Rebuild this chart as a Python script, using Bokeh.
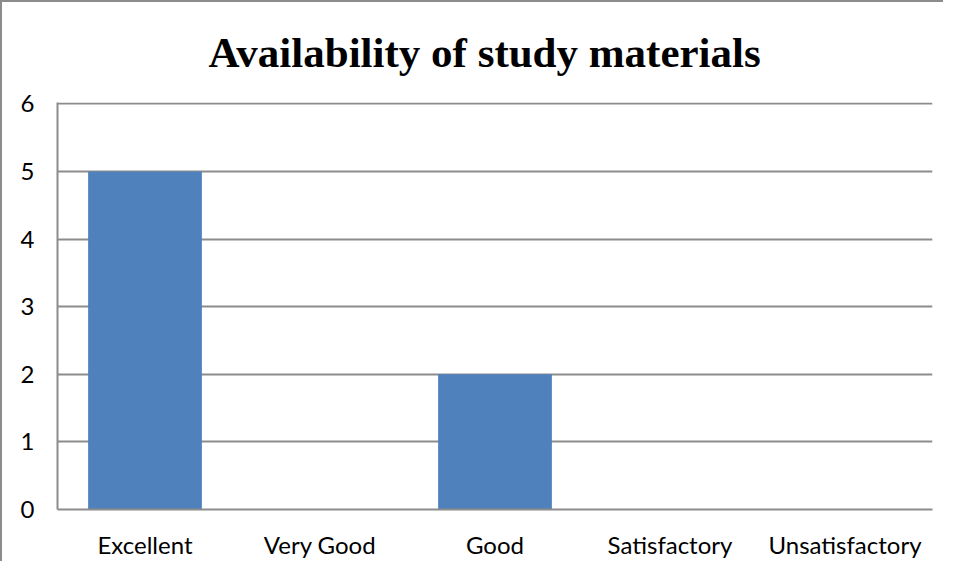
from bokeh.plotting import figure
from bokeh.models import FixedTicker, ColumnDataSource
from bokeh.embed import file_html
from bokeh.resources import INLINE

categories = ["Excellent", "Very Good", "Good", "Satisfactory", "Unsatisfactory"]
counts = [5, 0, 2, 0, 0]
y_ticks = [0, 1, 2, 3, 4, 5, 6]
title_text = "Availability of study materials"

W, H = 943, 561
BL, BT, BR, BB = 55, 100, 13, 54
p = figure(x_range=categories, y_range=(0, 6.02), width=W, height=H,
           output_backend="svg", toolbar_location=None, title=title_text,
           min_border_left=BL, min_border_top=BT, min_border_right=BR, min_border_bottom=BB)
p.styles = {"border-left": "2px solid #8c8c8c", "border-top": "2px solid #8c8c8c"}

p.title.text_font = "Liberation Serif"
p.title.text_font_style = "bold"
p.title.text_font_size = "43px"
p.title.text_color = "#000000"
p.title.align = "left"
p.title.offset = 151
p.title.vertical_align = "top"
p.title.standoff = 50

src = ColumnDataSource(dict(cat=categories, val=counts))
p.vbar(x="cat", top="val", width=0.65, source=src, fill_color="#4F81BD", line_color=None)

p.outline_line_color = None
p.xgrid.grid_line_color = None
p.ygrid.grid_line_color = "#8c8c8c"
p.ygrid.grid_line_width = 2
p.yaxis.ticker = FixedTicker(ticks=y_ticks)

for ax in (p.xaxis, p.yaxis):
    ax.axis_line_color = "#8c8c8c"
    ax.axis_line_width = 2
    ax.major_tick_line_color = None
    ax.minor_tick_line_color = None
    ax.major_tick_out = 0
    ax.major_tick_in = 0
    ax.minor_tick_out = 0
    ax.major_label_text_font = "Lato"
    ax.major_label_text_font_size = "24px"
    ax.major_label_text_color = "#000000"
p.yaxis.major_label_standoff = 23
p.xaxis.major_label_standoff = 20
p.x_range.range_padding = 0
p.x_range.factor_padding = 0

open("out.html", "w").write(file_html(p, INLINE))
